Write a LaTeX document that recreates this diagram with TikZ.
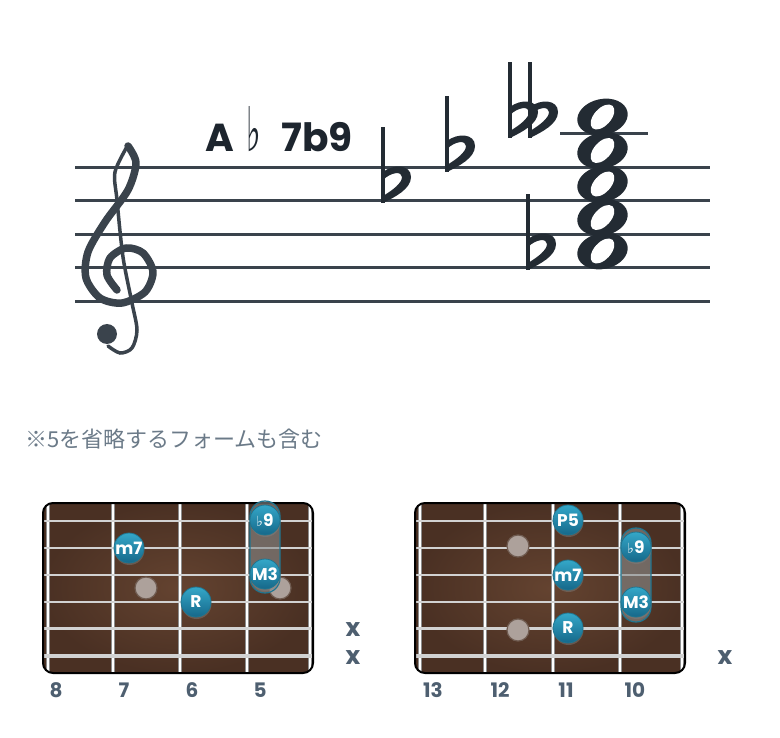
\documentclass[tikz,border=0pt]{standalone}
\usepackage{fontspec}
\usepackage{xcolor}
\usepackage{tikz}
\usetikzlibrary{shadows}
\newfontfamily\labelfont{Poppins}
\newfontfamily\jpfont{Noto Sans CJK JP}
\newfontfamily\symfont{DejaVu Sans}

\definecolor{staffcol}{HTML}{3A434C}
\definecolor{notecol}{HTML}{232B33}
\definecolor{chordcol}{HTML}{1D252E}
\definecolor{slate}{HTML}{4E5F70}
\definecolor{jpgray}{HTML}{6B7A88}
\definecolor{woodlight}{HTML}{644330}
\definecolor{wooddark}{HTML}{4A3023}
\definecolor{dotlight}{HTML}{34A7C8}
\definecolor{dotdark}{HTML}{16688A}
\definecolor{dotrim}{HTML}{1F7590}
\definecolor{markergray}{HTML}{ADA19B}
\definecolor{markerrim}{HTML}{6F5B50}
\definecolor{fretedge}{HTML}{8C8C8C}
\definecolor{stringgray}{HTML}{D2D2D2}
\definecolor{barregray}{HTML}{8A8C8C}

\tikzset{
  flatmark/.pic={
    \draw[notecol, line width=3.2] (0,0) -- (0,-76);
    \fill[notecol] (0,-31) .. controls (10,-39) and (28,-39) .. (28,-26)
      .. controls (28,-14) and (12,-6) .. (0,0) -- (0,-7)
      .. controls (10,-13) and (19,-20) .. (19,-26)
      .. controls (19,-32) and (8,-31) .. (0,-23) -- cycle;
  },
  wholenote/.pic={
    \fill[notecol, rotate=12] (0,0) ellipse (25.5 and 18);
    \fill[white, rotate=48] (0,0) ellipse (15 and 8.5);
  },
}

\begin{document}
\begin{tikzpicture}[x=1pt,y=-1pt,
  stafflinestyle/.style={staffcol, line width=3},
  tone/.style={circle, inner sep=0pt, minimum size=30pt, top color=dotlight, bottom color=dotdark,
    draw=dotrim, line width=0.8pt, text=white, font=\labelfont\bfseries\fontsize{17}{17}\selectfont,
    drop shadow={shadow xshift=0.5pt, shadow yshift=-2pt, opacity=0.45}},
  marker/.style={circle, inner sep=0pt, minimum size=22pt, fill=markergray, draw=markerrim, line width=1.2pt},
  fretnum/.style={text=slate, font=\labelfont\bfseries\fontsize{20}{20}\selectfont},
  mute/.style={text=slate, font=\labelfont\bfseries\fontsize{25}{25}\selectfont},
  fretwire/.style={fretedge, line width=4.5, postaction={draw=white, line width=2.2}},
  stringline/.style={stringgray},
  barre/.style={rounded corners=15, fill=barregray, fill opacity=0.6, draw=dotrim, line width=1.2}
]
\useasboundingbox (0,0) rectangle (780,738);

% staff
\foreach \y in {167.5,201,234.5,268,301.5}
  \draw[stafflinestyle] (75,\y) -- (710,\y);
\draw[stafflinestyle] (560,134) -- (648,134);

% treble clef
\draw[staffcol, line width=3.5, line cap=round] plot[smooth] coordinates
  {(128,145) (115,172) (117,200) (123,257) (132,303) (137,330) (132,348) (120,353) (108,346)};
\fill[staffcol] (107,334) circle (10);
\draw[staffcol, line width=7.5, line cap=round, line join=round] plot[smooth] coordinates
  {(128,146) (136,163) (128,190) (105,222) (88,252) (86,278) (100,298) (122,303) (145,292)
   (153,272) (143,253) (126,248) (110,258) (107,275) (117,290)};

% chord name
\node[anchor=base west, inner sep=0pt, text=chordcol, font=\labelfont\bfseries\fontsize{39}{39}\selectfont]
  (chordname) at (205,152) {A\hspace{13pt}{\symfont\mdseries\fontsize{44}{44}\selectfont\scalebox{0.7}[1.4]{♭}}\hspace{20pt}7b9};

% accidentals and notes
\pic at (383,203) {flatmark};
\pic at (447,172) {flatmark};
\pic at (510,138) {flatmark};
\pic at (530,138) {flatmark};
\pic at (528,270) {flatmark};
\foreach \y in {117,150.5,184,217.5,251}
  \pic at (602.5,\y) {wholenote};

\node[anchor=west, inner sep=0pt, text=jpgray, font=\jpfont\fontsize{22}{22}\selectfont]
  (remark) at (25,439) {※5を省略するフォームも含む};

% left fretboard
\begin{scope}
  \clip[rounded corners=10] (43,503) rectangle (313,673);
  \shade[inner color=woodlight, outer color=wooddark] (43,503) rectangle (313,673);
  \draw[fretwire] (48,503) -- (48,673);
  \draw[fretwire] (113,503) -- (113,673);
  \draw[fretwire] (180,503) -- (180,673);
  \draw[fretwire] (247,503) -- (247,673);
  \draw[fretwire] (310,503) -- (310,673);
  \foreach \y/\w in {521/1.6,548/1.8,575/2,602/2.3,628.5/2.6,656/3.4}
    \draw[stringline, line width=\w] (43,\y) -- (313,\y);
\end{scope}
\draw[black, line width=2, rounded corners=10] (43,503) rectangle (313,673);

\node[marker] (lmarkA) at (146,588) {};
\node[marker] (lmarkB) at (280,588) {};
\draw[barre] (250,501) rectangle (280,593);
\node[tone] (lflatnine) at (265,520) {{\symfont\mdseries\fontsize{14}{14}\selectfont ♭}9};
\node[tone] (lminseven) at (129,548) {m7};
\node[tone] (lmajthree) at (265,574) {M3};
\node[tone] (lroot) at (196,602) {R};

\node[mute] (lmuteA) at (353,630) {x};
\node[mute] (lmuteB) at (353,658) {x};
\node[fretnum] (lfretA) at (56,690) {8};
\node[fretnum] (lfretB) at (124,690) {7};
\node[fretnum] (lfretC) at (192,690) {6};
\node[fretnum] (lfretD) at (260,690) {5};

% right fretboard
\begin{scope}
  \clip[rounded corners=10] (415,503) rectangle (685,673);
  \shade[inner color=woodlight, outer color=wooddark] (415,503) rectangle (685,673);
  \draw[fretwire] (420,503) -- (420,673);
  \draw[fretwire] (485,503) -- (485,673);
  \draw[fretwire] (553,503) -- (553,673);
  \draw[fretwire] (620,503) -- (620,673);
  \draw[fretwire] (682,503) -- (682,673);
  \foreach \y/\w in {521/1.6,548/1.8,575/2,602/2.3,628.5/2.6,656/3.4}
    \draw[stringline, line width=\w] (415,\y) -- (685,\y);
\end{scope}
\draw[black, line width=2, rounded corners=10] (415,503) rectangle (685,673);

\node[marker] (rmarkA) at (518,546) {};
\node[marker] (rmarkB) at (518,630) {};
\draw[barre] (621,528) rectangle (651,622);
\node[tone] (rfifth) at (568,520) {P5};
\node[tone] (rflatnine) at (636,547) {{\symfont\mdseries\fontsize{14}{14}\selectfont ♭}9};
\node[tone] (rminseven) at (568,575) {m7};
\node[tone] (rmajthree) at (636,602) {M3};
\node[tone] (rroot) at (568,628) {R};

\node[mute] (rmute) at (725,658) {x};
\node[fretnum] (rfretA) at (433,690) {13};
\node[fretnum] (rfretB) at (500,690) {12};
\node[fretnum] (rfretC) at (566,690) {11};
\node[fretnum] (rfretD) at (635,690) {10};
\end{tikzpicture}
\end{document}
